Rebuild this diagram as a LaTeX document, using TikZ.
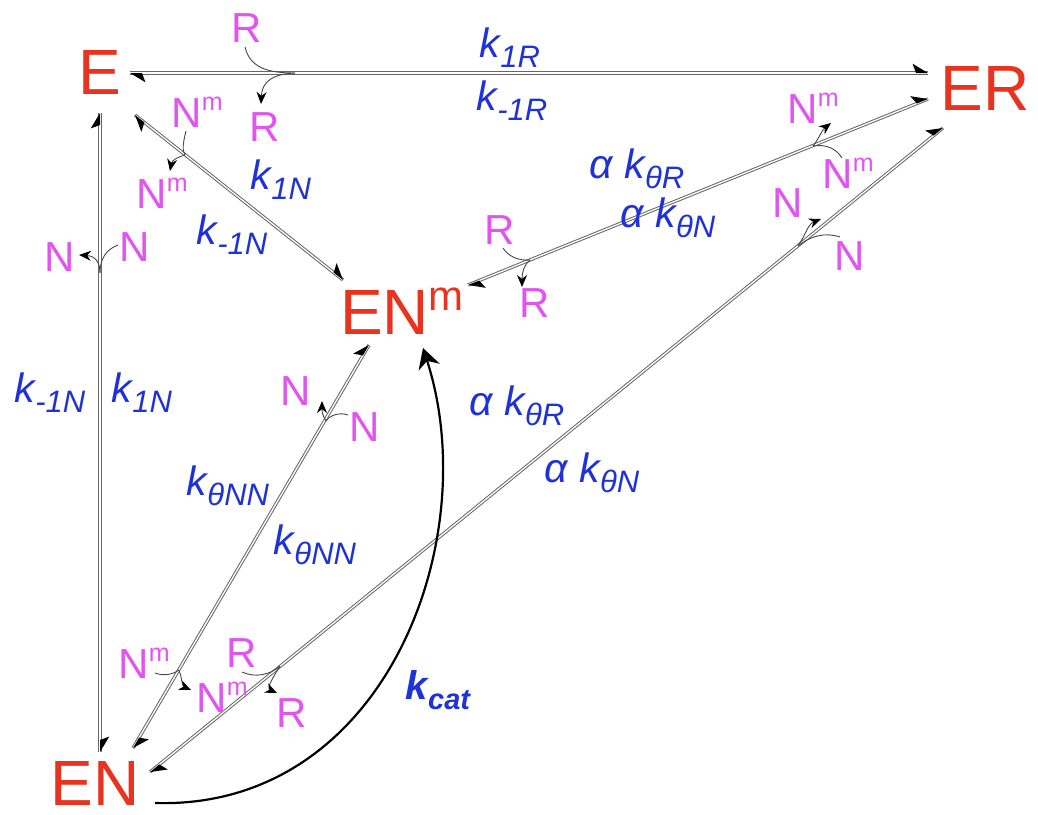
\documentclass[tikz,border=0pt]{standalone}
\usepackage{fontspec}
\setmainfont{Liberation Sans}
\usetikzlibrary{arrows.meta,calc}
\definecolor{spred}{RGB}{232,52,30}
\definecolor{lmag}{RGB}{226,84,240}
\definecolor{kblue}{RGB}{30,50,215}
\newcommand\Nm{N\raisebox{17pt}{\fontsize{25}{25}\selectfont m}}
\newcommand\ksub[1]{\raisebox{-10pt}{\fontsize{31}{31}\selectfont #1}}
\newcommand\harp[2]{\fill[black] ($(#1)!18pt!-31:(#2)$) -- (#1) -- ($(#1)!12pt!(#2)$) -- cycle;}
\newcommand\revline[2]{\draw[dline] (#1) -- (#2); \harp{#1}{#2} \harp{#2}{#1}}
\begin{document}
\begin{tikzpicture}[x=1pt,y=-1pt,
 sp/.style={text=spred, font=\fontsize{64}{64}\selectfont, inner sep=0pt},
 lb/.style={text=lmag, font=\fontsize{42}{42}\selectfont, inner sep=0pt},
 rk/.style={text=kblue, font=\fontsize{41}{41}\selectfont\itshape, inner sep=0pt},
 dline/.style={draw=gray!80!black, double=white, double distance=1.3pt, line width=1pt},
 side/.style={draw=gray!55!black, line width=0.9pt},
 sarr/.style={side, -{Stealth[length=12pt,width=10pt,color=black,fill=black]}}
]
\useasboundingbox (0,0) rectangle (1038,814);
% species
\node[sp] (E) at (100,72) {E};
\node[sp] (ER) at (985,88) {ER};
\node[sp] (ENm) at (402,311) {EN\raisebox{24pt}{\fontsize{42}{42}\selectfont m}};
\node[sp] (EN) at (95,783) {EN};
% connector ends
\coordinate (e1) at (130,73); \coordinate (er1) at (928,73);
\coordinate (e2) at (135,115); \coordinate (m2) at (343,280);
\coordinate (e3) at (100,113); \coordinate (n3) at (100,752);
\coordinate (m4) at (468,285); \coordinate (er4) at (928,99);
\coordinate (n5) at (150,772); \coordinate (er5) at (943,128);
\coordinate (n6) at (133,748); \coordinate (m6) at (369,345);
\revline{e1}{er1}
\revline{e2}{m2}
\revline{e3}{n3}
\revline{m4}{er4}
\revline{n5}{er5}
\revline{n6}{m6}
% k_cat
\coordinate (kc0) at (155,803); \coordinate (kc1) at (423,348);
\draw[line width=2.2pt, -{Stealth[length=20pt,width=22pt]}] (kc0) .. controls (385,810) and (485,540) .. (kc1);
% labels (magenta)
\node[lb] (Ra) at (247,28) {R};
\node[lb] (Rb) at (265,127) {R};
\node[lb] (Nma) at (197,112) {\Nm};
\node[lb] (Nmb) at (162,193) {\Nm};
\node[lb] (Nc1) at (60,257) {N};
\node[lb] (Nc2) at (135,247) {N};
\node[lb] (Rd1) at (500,230) {R};
\node[lb] (Rd2) at (535,303) {R};
\node[lb] (Nme1) at (813,108) {\Nm};
\node[lb] (Nme2) at (848,173) {\Nm};
\node[lb] (Nf1) at (788,203) {N};
\node[lb] (Nf2) at (850,256) {N};
\node[lb] (Ng1) at (296,391) {N};
\node[lb] (Ng2) at (365,427) {N};
\node[lb] (Nmh1) at (144,663) {\Nm};
\node[lb] (Nmh2) at (222,697) {\Nm};
\node[lb] (Ri1) at (242,653) {R};
\node[lb] (Ri2) at (292,713) {R};
% side curves
\coordinate (ca) at (295,73);
\draw[side] (245,47) .. controls (250,68) and (268,73) .. (ca);
\draw[sarr] (ca) .. controls (272,74) and (262,82) .. (261,104);
\coordinate (cb) at (185,155);
\draw[side] (186,131) .. controls (183,143) and (182,150) .. (cb);
\draw[sarr] (cb) .. controls (178,157) and (172,160) .. (170,171);
\coordinate (cc) at (100,273);
\draw[side] (118,245) .. controls (105,250) and (100,260) .. (cc);
\draw[sarr] (cc) .. controls (100,262) and (95,256) .. (79,255);
\coordinate (cd) at (530,260);
\draw[side] (503,248) .. controls (508,256) and (518,261) .. (cd);
\draw[sarr] (cd) .. controls (524,265) and (522,272) .. (522,287);
\coordinate (ce) at (813,146);
\draw[side] (842,158) .. controls (836,148) and (825,144) .. (ce);
\draw[sarr] (ce) .. controls (818,140) and (822,130) .. (831,123);
\coordinate (cf) at (798,246);
\draw[side] (840,237) .. controls (825,232) and (810,236) .. (cf);
\draw[sarr] (cf) .. controls (805,236) and (808,224) .. (821,219);
\coordinate (cg) at (326,421);
\draw[side] (348,415) .. controls (340,412) and (330,415) .. (cg);
\draw[sarr] (cg) .. controls (322,415) and (322,410) .. (322,401);
\coordinate (ch) at (179,670);
\draw[side] (155,673) .. controls (163,676) and (172,675) .. (ch);
\draw[sarr] (ch) .. controls (182,678) and (182,686) .. (191,690);
\coordinate (ci) at (280,666);
\draw[side] (242,672) .. controls (255,678) and (270,675) .. (ci);
\draw[sarr] (ci) .. controls (274,676) and (266,688) .. (277,693);
% rate labels
\node[rk] (k1R) at (510,48) {k\ksub{1R}};
\node[rk] (km1R) at (512,101) {k\ksub{-1R}};
\node[rk] (k1Na) at (281,180) {k\ksub{1N}};
\node[rk] (km1Na) at (232,235) {k\ksub{-1N}};
\node[rk] (km1Nb) at (50,393) {k\ksub{-1N}};
\node[rk] (k1Nb) at (142,393) {k\ksub{1N}};
\node[rk] (aR1) at (637,169) {α k\ksub{θR}};
\node[rk] (aN1) at (668,218) {α k\ksub{θN}};
\node[rk] (aR2) at (517,406) {α k\ksub{θR}};
\node[rk] (aN2) at (592,473) {α k\ksub{θN}};
\node[rk] (kNN1) at (228,486) {k\ksub{θNN}};
\node[rk] (kNN2) at (315,545) {k\ksub{θNN}};
\node[rk, font=\fontsize{40}{40}\selectfont\bfseries\itshape] (kcat) at (438,690) {k\raisebox{-10pt}{\fontsize{29}{29}\selectfont cat}};
\end{tikzpicture}
\end{document}
